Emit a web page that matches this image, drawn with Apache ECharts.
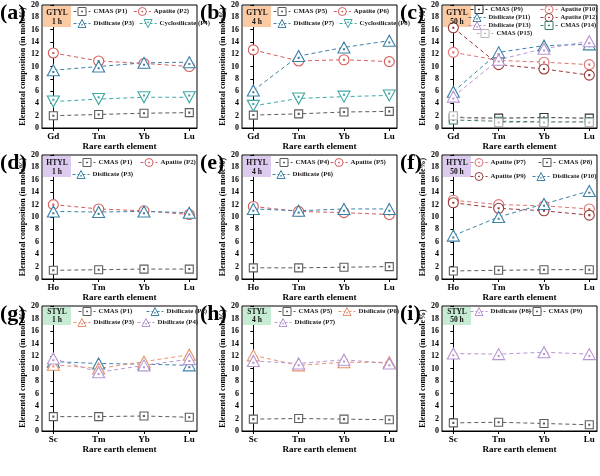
<!DOCTYPE html>
<html><head><meta charset="utf-8">
<script src="https://cdn.jsdelivr.net/npm/echarts@6/dist/echarts.min.js"></script>
<style>html,body{margin:0;padding:0;background:#fff}#c{width:600px;height:476px}</style>
</head><body><div id="c"></div>
<script>
// ---- categories ----
const catsGd = ['Gd','Tm','Yb','Lu'];
const catsHo = ['Ho','Tm','Yb','Lu'];
const catsSc = ['Sc','Tm','Yb','Lu'];

// ---- (a) GTYL 1 h ----
const a_CMAS_P1 = [2.0, 2.2, 2.4, 2.5];
const a_Apatite_P2 = [12.2, 10.9, 10.5, 10.0];
const a_Disilicate_P3 = [9.4, 10.0, 10.6, 10.7];
const a_Cyclosilicate_P4 = [4.3, 4.7, 5.0, 5.0];
// ---- (b) GTYL 4 h ----
const b_CMAS_P5 = [2.1, 2.3, 2.6, 2.7];
const b_Apatite_P6 = [12.7, 10.9, 11.1, 10.8];
const b_Disilicate_P7 = [6.1, 11.7, 13.1, 14.2];
const b_Cyclosilicate_P8 = [3.6, 4.8, 5.1, 5.3];
// ---- (c) GTYL 50 h ----
const c_CMAS_P9 = [1.7, 1.6, 1.7, 1.6];
const c_Apatite_P10 = [12.3, 11.0, 10.7, 10.3];
const c_Disilicate_P11 = [5.9, 12.3, 13.4, 13.6];
const c_Apatite_P12 = [16.3, 10.3, 9.6, 8.6];
const c_Disilicate_P13 = [5.1, 11.1, 12.9, 14.1];
const c_CMAS_P14 = [1.3, 1.1, 1.0, 1.0];
const c_CMAS_P15 = [2.0, 0.9, 0.9, 0.9];
// ---- (d) HTYL 1 h ----
const d_CMAS_P1 = [1.4, 1.5, 1.6, 1.6];
const d_Apatite_P2 = [12.0, 11.3, 11.0, 10.4];
const d_Disilicate_P3 = [10.9, 10.8, 10.9, 10.7];
// ---- (e) HTYL 4 h ----
const e_CMAS_P4 = [1.8, 1.8, 1.9, 2.0];
const e_Apatite_P5 = [11.7, 10.9, 10.7, 10.4];
const e_Disilicate_P6 = [11.3, 11.0, 11.3, 11.3];
// ---- (f) HTYL 50 h ----
const f_Apatite_P7 = [12.7, 12.0, 11.8, 11.3];
const f_CMAS_P8 = [1.3, 1.4, 1.5, 1.5];
const f_Apatite_P9 = [12.3, 11.4, 11.0, 10.3];
const f_Disilicate_P10 = [7.0, 10.0, 12.1, 14.2];
// ---- (g) STYL 1 h ----
const g_CMAS_P1 = [2.3, 2.3, 2.4, 2.2];
const g_Disilicate_P2 = [11.1, 10.8, 10.7, 10.5];
const g_Disilicate_P3 = [10.6, 10.0, 11.1, 12.2];
const g_Disilicate_P4 = [11.6, 9.4, 10.5, 11.5];
// ---- (h) STYL 4 h ----
const h_CMAS_P5 = [1.9, 2.0, 1.9, 1.8];
const h_Disilicate_P6 = [12.1, 10.5, 11.0, 11.0];
const h_Disilicate_P7 = [11.2, 10.8, 11.4, 10.8];
// ---- (i) STYL 50 h ----
const i_Disilicate_P8 = [12.4, 12.3, 12.6, 12.3];
const i_CMAS_P9 = [1.3, 1.4, 1.2, 1.0];

// ---- styles ----
const FONT = 'Liberation Serif';
const GRAY = '#5c5c5c', RED = '#d65c5c', BLUE = '#3f82a8', TEAL = '#3fa8a6';
const DARK = '#333333', LRED = '#e07272', DRED = '#9a3b3b', PURP = '#b796d3', DTEAL = '#3d7a6a', LGRAY = '#b8b8b8', ORNG = '#e8916a';
const ORANGE_BG = '#fbc9a2', PURPLE_BG = '#dccbee', GREEN_BG = '#c5ecd2';

const colLeft = [42, 242, 442], rowTop = [5, 155, 306], rowH = [123, 124, 125], W = 155;

const panels = [
 {letter:'(a)', r:0, c:0, cats:catsGd, tag:['GTYL','1 h'], bg:ORANGE_BG, series:[
   ['CMAS (P1)', a_CMAS_P1, 'sq', GRAY], ['Apatite (P2)', a_Apatite_P2, 'ci', RED],
   ['Disilicate (P3)', a_Disilicate_P3, 'tr', BLUE], ['Cyclosilicate (P4)', a_Cyclosilicate_P4, 'td', TEAL]],
   legends:[{x:73,y:12,items:[0,1],gap:6},{x:73,y:24,items:[2,3],gap:5}]},
 {letter:'(b)', r:0, c:1, cats:catsGd, tag:['GTYL','4 h'], bg:ORANGE_BG, series:[
   ['CMAS (P5)', b_CMAS_P5, 'sq', GRAY], ['Apatite (P6)', b_Apatite_P6, 'ci', RED],
   ['Disilicate (P7)', b_Disilicate_P7, 'tr', BLUE], ['Cyclosilicate (P8)', b_Cyclosilicate_P8, 'td', TEAL]],
   legends:[{x:273,y:12,items:[0,1],gap:6},{x:273,y:24,items:[2,3],gap:5}]},
 {letter:'(c)', r:0, c:2, cats:catsGd, tag:['GTYL','50 h'], bg:ORANGE_BG, series:[
   ['CMAS (P9)', c_CMAS_P9, 'sq', DARK], ['Apatite (P10)', c_Apatite_P10, 'ci', LRED],
   ['Disilicate (P11)', c_Disilicate_P11, 'tr', BLUE], ['Apatite (P12)', c_Apatite_P12, 'ci', DRED],
   ['Disilicate (P13)', c_Disilicate_P13, 'tr', PURP], ['CMAS (P14)', c_CMAS_P14, 'sq', DTEAL],
   ['CMAS (P15)', c_CMAS_P15, 'sq', LGRAY]],
   legends:[{x:470,y:10,items:[0],gap:5},{x:540,y:10,items:[1],gap:5},
            {x:468,y:18,items:[2],gap:5},{x:540,y:18,items:[3],gap:5},
            {x:468,y:26,items:[4],gap:5},{x:540,y:26,items:[5],gap:5},
            {x:476,y:34,items:[6],gap:5}], small:true},
 {letter:'(d)', r:1, c:0, cats:catsHo, tag:['HTYL','1 h'], bg:PURPLE_BG, series:[
   ['CMAS (P1)', d_CMAS_P1, 'sq', GRAY], ['Apatite (P2)', d_Apatite_P2, 'ci', RED],
   ['Disilicate (P3)', d_Disilicate_P3, 'tr', BLUE]],
   legends:[{x:78,y:163,items:[0],gap:5},{x:140,y:163,items:[1],gap:5},{x:72,y:175,items:[2],gap:5}]},
 {letter:'(e)', r:1, c:1, cats:catsHo, tag:['HTYL','4 h'], bg:PURPLE_BG, series:[
   ['CMAS (P4)', e_CMAS_P4, 'sq', GRAY], ['Apatite (P5)', e_Apatite_P5, 'ci', RED],
   ['Disilicate (P6)', e_Disilicate_P6, 'tr', BLUE]],
   legends:[{x:275,y:163,items:[0],gap:5},{x:330,y:163,items:[1],gap:5},{x:272,y:175,items:[2],gap:5}]},
 {letter:'(f)', r:1, c:2, cats:catsHo, tag:['HTYL','50 h'], bg:PURPLE_BG, series:[
   ['Apatite (P7)', f_Apatite_P7, 'ci', LRED], ['CMAS (P8)', f_CMAS_P8, 'sq', GRAY],
   ['Apatite (P9)', f_Apatite_P9, 'ci', DRED], ['Disilicate (P10)', f_Disilicate_P10, 'tr', BLUE]],
   legends:[{x:470,y:163,items:[0],gap:5},{x:538,y:163,items:[1],gap:5},
            {x:470,y:177,items:[2],gap:5},{x:532,y:177,items:[3],gap:5}]},
 {letter:'(g)', r:2, c:0, cats:catsSc, tag:['STYL','1 h'], bg:GREEN_BG, series:[
   ['CMAS (P1)', g_CMAS_P1, 'sq', GRAY], ['Disilicate (P2)', g_Disilicate_P2, 'tr', BLUE],
   ['Disilicate (P3)', g_Disilicate_P3, 'tr', ORNG], ['Disilicate (P4)', g_Disilicate_P4, 'tr', PURP]],
   legends:[{x:78,y:312,items:[0],gap:5},{x:146,y:312,items:[1],gap:5},
            {x:73,y:323,items:[2],gap:5},{x:137,y:323,items:[3],gap:5}]},
 {letter:'(h)', r:2, c:1, cats:catsSc, tag:['STYL','4 h'], bg:GREEN_BG, series:[
   ['CMAS (P5)', h_CMAS_P5, 'sq', GRAY], ['Disilicate (P6)', h_Disilicate_P6, 'tr', ORNG],
   ['Disilicate (P7)', h_Disilicate_P7, 'tr', PURP]],
   legends:[{x:278,y:312,items:[0],gap:5},{x:338,y:312,items:[1],gap:5},
            {x:274,y:323,items:[2],gap:5}]},
 {letter:'(i)', r:2, c:2, cats:catsSc, tag:['STYL','50 h'], bg:GREEN_BG, series:[
   ['Disilicate (P8)', i_Disilicate_P8, 'tr', PURP], ['CMAS (P9)', i_CMAS_P9, 'sq', GRAY]],
   legends:[{x:470,y:312,items:[0],gap:5},{x:528,y:312,items:[1],gap:5}]}
];

const SYM = {
  sq: {symbol:'path://M0,0H10V10H0Z M4.4,4.4H5.6V5.6H4.4Z', size:8, rot:0},
  ci: {symbol:'path://M10,5A5,5,0,1,1,0,5A5,5,0,1,1,10,5Z M4.5,4.5H5.5V5.5H4.5Z', size:10, rot:0},
  tr: {symbol:'path://M5,0L10,9L0,9Z M4.6,5.6H5.4V6.4H4.6Z', size:[12,11], rot:0},
  td: {symbol:'path://M5,0L10,9L0,9Z M4.6,5.6H5.4V6.4H4.6Z', size:[12,11], rot:180}
};

const grid = [], xAxis = [], yAxis = [], series = [], legend = [], graphic = [];
panels.forEach((p, k) => {
  const left = colLeft[p.c], top = rowTop[p.r], h = rowH[p.r];
  grid.push({left: left, top: top, width: W, height: h, show: true, borderColor: '#000', borderWidth: 1, backgroundColor: 'transparent'});
  const cats = p.cats;
  xAxis.push({type:'value', gridIndex:k, min:-0.25, max:3.17,
    axisLine:{onZero:false, lineStyle:{color:'#000', width:1}},
    splitLine:{show:false},
    axisTick:{customValues:[0,1,2,3], length:3, lineStyle:{color:'#000'}},
    axisLabel:{customValues:[0,1,2,3], formatter: v => cats[Math.round(v)] || '', fontFamily:FONT, fontWeight:'bold', fontSize:9, color:'#000', margin:4},
    name:'Rare earth element', nameLocation:'middle', nameGap:14,
    nameTextStyle:{fontFamily:FONT, fontWeight:'bold', fontSize:9, color:'#000'}});
  yAxis.push({type:'value', gridIndex:k, min:0, max:20, interval:2,
    axisLine:{show:true, lineStyle:{color:'#000', width:1}},
    axisTick:{show:true, length:3, lineStyle:{color:'#000'}},
    axisLabel:{fontFamily:FONT, fontWeight:'bold', fontSize:8, color:'#000', margin:3},
    splitLine:{show:false},
    name:'Elemental composition (in mole%)', nameLocation:'middle', nameGap:13,
    nameTextStyle:{fontFamily:FONT, fontWeight:'bold', fontSize:8, color:'#000'}});
  const names = [];
  p.series.forEach(s => {
    const sym = SYM[s[2]];
    const nm = s[0] + '#' + k;
    names.push(nm);
    series.push({type:'line', name:nm, xAxisIndex:k, yAxisIndex:k,
      data: s[1].map((v, i) => [i, v]),
      symbol: sym.symbol, symbolSize: sym.size, symbolRotate: sym.rot, showAllSymbol:true,
      lineStyle:{type:[4,3], width:1, color:s[3]},
      itemStyle:{color:'#fff', borderColor:s[3], borderWidth:1.1},
      emphasis:{disabled:true}, animation:false, z:2});
  });
  p.legends.forEach(L => {
    legend.push({left:L.x, top:L.y - 5, orient:'horizontal', padding:0, itemGap:L.gap,
      itemWidth:17, itemHeight:10, selectedMode:false,
      itemStyle:{color:'#fff', borderWidth:1},
      lineStyle:{type:[3,2], width:1},
      data: L.items.map(i => names[i]),
      formatter: n => n.split('#')[0],
      textStyle:{fontFamily:FONT, fontWeight:'bold', fontSize: p.small ? 6.5 : 6.8, color:'#222', padding:[0,0,0,-2]}});
  });
  // tag box
  const bh = p.r === 2 ? 18 : 21;
  graphic.push({type:'rect', x:left+1, y:top+1, shape:{width:28, height:bh}, style:{fill:p.bg}, z:1});
  graphic.push({type:'text', x:left+15, y:top+ (p.r===2 ? 2.5 : 3.5), z:3,
    style:{text:p.tag[0] + '\n' + p.tag[1], fill:'#111', font:'bold 7.5px "' + FONT + '"', align:'center', verticalAlign:'top', lineHeight: p.r===2 ? 8 : 9}});
  // panel letter
  graphic.push({type:'text', x: left - 42, y: top + 8, z:3,
    style:{text:p.letter, fill:'#000', font:'bold 22px "' + FONT + '"', verticalAlign:'middle'}});
});

const chart = echarts.init(document.getElementById('c'), null, {renderer:'canvas'});
chart.setOption({animation:false, backgroundColor:'#fff', grid, xAxis, yAxis, series, legend, graphic});
</script></body></html>
